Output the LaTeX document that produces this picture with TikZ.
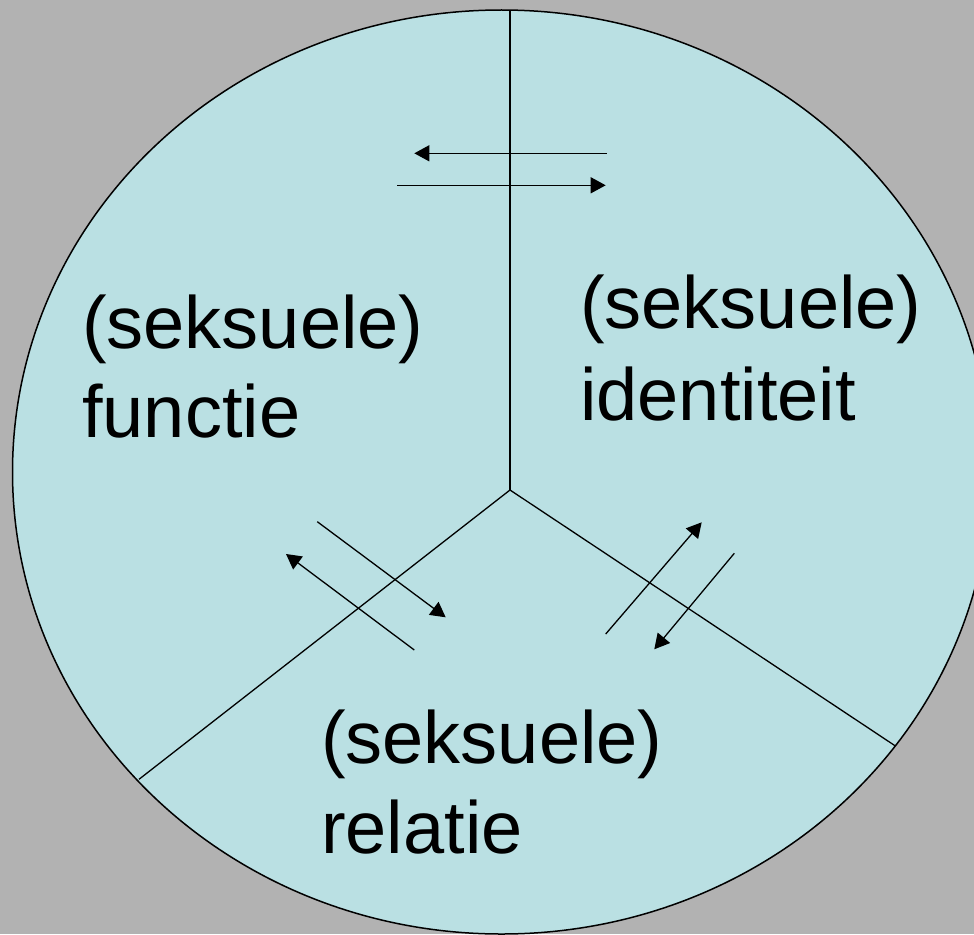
\documentclass[tikz,border=0pt]{standalone}
\usepackage{fontspec}
\setmainfont{Liberation Sans}
\usetikzlibrary{arrows.meta}
\definecolor{bggray}{HTML}{B2B2B2}
\definecolor{disc}{HTML}{BAE0E3}
\begin{document}
\begin{tikzpicture}[x=1pt,y=-1pt,
  lbl/.style={anchor=base west, inner sep=0pt, font=\fontsize{74}{90}\selectfont},
  arr/.style={line width=1.3pt, -{Triangle[length=15pt,width=16pt]}},
  divider/.style={line width=1.3pt}]
\fill[bggray] (0,0) rectangle (974,934);
\useasboundingbox (0,0) rectangle (974,934);
\filldraw[fill=disc, draw=black, line width=1.5pt] (501.5,472) ellipse [x radius=489pt, y radius=462pt];
% dividers
\coordinate (c) at (510,490);
\coordinate (ctop) at (510,10.3);
\coordinate (cleft) at (139,779.3);
\coordinate (cright) at (895,745.7);
\draw[divider] (c) -- (ctop);
\draw[divider] (c) -- (cleft);
\draw[divider] (c) -- (cright);
% arrows top
\coordinate (t1s) at (606.7,153.3); \coordinate (t1e) at (414.3,153.3);
\coordinate (t2s) at (397.3,185.3); \coordinate (t2e) at (605.7,185.3);
\draw[arr] (t1s) -- (t1e);
\draw[arr] (t2s) -- (t2e);
% arrows left
\coordinate (l1s) at (317.3,521.7); \coordinate (l1e) at (445.7,617.3);
\coordinate (l2s) at (414.3,650); \coordinate (l2e) at (286,554);
\draw[arr] (l1s) -- (l1e);
\draw[arr] (l2s) -- (l2e);
% arrows right
\coordinate (r1s) at (605.7,634); \coordinate (r1e) at (701.7,522.3);
\coordinate (r2s) at (734.3,553.3); \coordinate (r2e) at (654.3,649.3);
\draw[arr] (r1s) -- (r1e);
\draw[arr] (r2s) -- (r2e);
% labels
\node[lbl] (fun1) at (82,348) {(seksuele)};
\node[lbl] (fun2) at (82,437) {functie};
\node[lbl] (id1) at (580,328) {(seksuele)};
\node[lbl] (id2) at (580,420) {identiteit};
\node[lbl] (rel1) at (321,763) {(seksuele)};
\node[lbl] (rel2) at (321,853) {relatie};
\end{tikzpicture}
\end{document}
